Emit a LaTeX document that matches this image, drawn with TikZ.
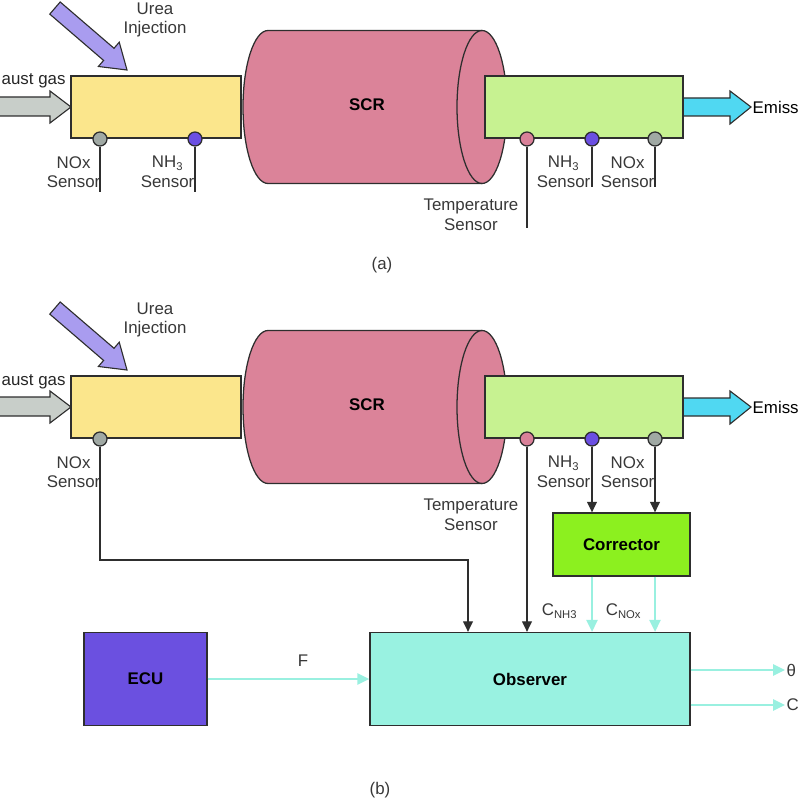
\documentclass[tikz,border=0pt]{standalone}
\usepackage{fontspec}
\setmainfont{Liberation Sans}
\setsansfont{Liberation Sans}
\usetikzlibrary{shapes.geometric, arrows.meta, positioning, calc}
\usepackage{xcolor}
\definecolor{lineDark}{HTML}{2E2E2E}
\definecolor{mixYellow}{HTML}{FBE68C}
\definecolor{outGreen}{HTML}{C7F291}
\definecolor{scrPink}{HTML}{DB8399}
\definecolor{gasGray}{HTML}{C8CEC9}
\definecolor{ureaLilac}{HTML}{A99CEF}
\definecolor{emisCyan}{HTML}{50D8F2}
\definecolor{noxGray}{HTML}{A0A9A4}
\definecolor{nhPurple}{HTML}{6B4FE2}
\definecolor{tmpPink}{HTML}{D98199}
\definecolor{corrGreen}{HTML}{8CF01F}
\definecolor{obsAqua}{HTML}{99F2E1}
\definecolor{ecuPurple}{HTML}{6B50E0}
\definecolor{sigCyan}{HTML}{99F0E0}
\tikzset{
    font=\sffamily\fontsize{12}{14}\selectfont,
    >={Triangle[length=7.5pt, width=7pt]},
    % Shapes
    pipe/.style={rectangle, draw=lineDark, line width=0.9pt, minimum height=1.55cm},
    drum/.style={draw=lineDark, line width=0.9pt, fill=scrPink},
    sensor/.style={circle, draw=lineDark, line width=0.9pt, minimum size=0.35cm, inner sep=0pt},
    block/.style={rectangle, draw=lineDark, line width=0.9pt, minimum height=2.325cm,
                  font=\sffamily\bfseries\fontsize{12}{14}\selectfont},
    bold/.style={font=\sffamily\bfseries\fontsize{12}{14}\selectfont},
    fat/.style={draw=lineDark, line width=0.8pt, line join=miter},
    % Flow & Labels
    wire/.style={line width=0.9pt, lineDark},
    sig/.style={-{Triangle[length=8.5pt, width=8pt]}, line width=1.3pt, sigCyan},
    lbl/.style={align=center, inner sep=1pt, text=black!78}
}

\begin{document}
\begin{tikzpicture}[x=0.025cm, y=-0.025cm]
\useasboundingbox (0,0) rectangle (800,800);

% the same line-up in both panels
\foreach \p/\dy in {a/0, b/300} {
    \draw[fat, fill=gasGray] (-10,\dy+97) -- (50,\dy+97) -- (50,\dy+91) -- (71,\dy+107)
        -- (50,\dy+123) -- (50,\dy+116) -- (-10,\dy+116) -- cycle;
    \draw[fat, fill=ureaLilac, shift={(127,\dy+70)}, rotate=-40.7]
        (0,0) -- (-24,16) -- (-24,8) -- (-95,8) -- (-95,-8) -- (-24,-8) -- (-24,-16) -- cycle;
    \draw[fat, fill=emisCyan] (683,\dy+98) -- (730,\dy+98) -- (730,\dy+91) -- (751,\dy+107)
        -- (730,\dy+124) -- (730,\dy+116) -- (683,\dy+116) -- cycle;
    \node[lbl, anchor=base west, text=black!85] (gas\p) at (0,\dy+85) {aust gas};
    \node[lbl] (urea\p) at (155,\dy+20) {Urea\\Injection};
    \node[lbl, anchor=west, text=black] (emis\p) at (751,\dy+107) {Emiss};

    % SCR drum
    \draw[drum] (482,\dy+30.5) -- (268,\dy+30.5)
        arc[start angle=270, end angle=90, x radius=25, y radius=76.5] -- (482,\dy+183.5)
        arc[start angle=90, end angle=-90, x radius=25, y radius=76.5] -- cycle;
    \draw[drum, fill=none] (482,\dy+30.5)
        arc[start angle=270, end angle=90, x radius=25, y radius=76.5];
    \node[bold] (scr\p) at (367,\dy+105) {SCR};

    \node[pipe, fill=mixYellow, minimum width=4.25cm] (mix\p) at (156,\dy+107) {};
    \node[pipe, fill=outGreen, minimum width=4.95cm] (out\p) at (584,\dy+107) {};

    \node[sensor, fill=noxGray] (noxin\p) at (100,\dy+139) {};
    \node[sensor, fill=tmpPink] (temp\p) at (527,\dy+139) {};
    \node[sensor, fill=nhPurple] (nh\p) at (592,\dy+139) {};
    \node[sensor, fill=noxGray] (noxout\p) at (655,\dy+139) {};

    \node[lbl, anchor=north east] at ($(noxin\p.south)+(2,8)$) {NOx\\Sensor};
    \node[lbl, anchor=north east] at ($(temp\p.south)+(-7,51)$) {Temperature\\Sensor};
    \node[lbl, anchor=north east] at ($(nh\p.south)+(0,8)$) {NH\textsubscript{3}\\Sensor};
    \node[lbl, anchor=north east] at ($(noxout\p.south)+(1,8)$) {NOx\\Sensor};
}

% (a) sensors only
\node[sensor, fill=nhPurple] (nhin) at (195,139) {};
\node[lbl, anchor=north east] at ($(nhin.south)+(1,8)$) {NH\textsubscript{3}\\Sensor};
\coordinate (noxinEnd) at (100,192);
\coordinate (nhinEnd) at (195,192);
\coordinate (tempEnd) at (527,228);
\coordinate (nhEnd) at (592,187);
\coordinate (noxoutEnd) at (655,187);
\draw[wire] (noxina.south) -- (noxinEnd);
\draw[wire] (nhin.south) -- (nhinEnd);
\draw[wire] (tempa.south) -- (tempEnd);
\draw[wire] (nha.south) -- (nhEnd);
\draw[wire] (noxouta.south) -- (noxoutEnd);
\node[lbl] (capa) at (382,265) {(a)};

% (b) observer loop
\node[block, fill=corrGreen, minimum width=3.425cm, minimum height=1.575cm] (corr) at (621.5,544.5) {Corrector};
\node[block, fill=obsAqua, minimum width=8cm] (obs) at (530,679) {Observer};
\node[block, fill=ecuPurple, minimum width=3.075cm] (ecu) at (145.5,679) {ECU};
\coordinate (kink) at (468,560);

\draw[wire, ->] (noxinb.south) |- (kink) -- (kink |- obs.north);
\draw[wire, ->] (tempb.south) -- (tempb.south |- obs.north);
\draw[wire, ->] (nhb.south) -- (nhb.south |- corr.north);
\draw[wire, ->] (noxoutb.south) -- (noxoutb.south |- corr.north);

\draw[sig] (corr.south -| nhb) -- (obs.north -| nhb);
\draw[sig] (corr.south -| noxoutb) -- (obs.north -| noxoutb);
\node[lbl, anchor=base east] (cnh) at ($(obs.north -| nhb)+(-13,-16)$) {C\textsubscript{NH3}};
\node[lbl, anchor=base east] (cnox) at ($(obs.north -| noxoutb)+(-12,-16)$) {C\textsubscript{NOx}};

\draw[sig] (ecu) -- node[lbl, above=7pt, pos=0.59] {F} (obs);
\node[lbl, anchor=west] (theta) at (785,670) {θ};
\node[lbl, anchor=west] (conc) at (785,705) {C};
\draw[sig] (obs.east |- theta) -- (theta);
\draw[sig] (obs.east |- conc) -- (conc);
\node[lbl] (capb) at (380,790) {(b)};

\end{tikzpicture}
\end{document}
